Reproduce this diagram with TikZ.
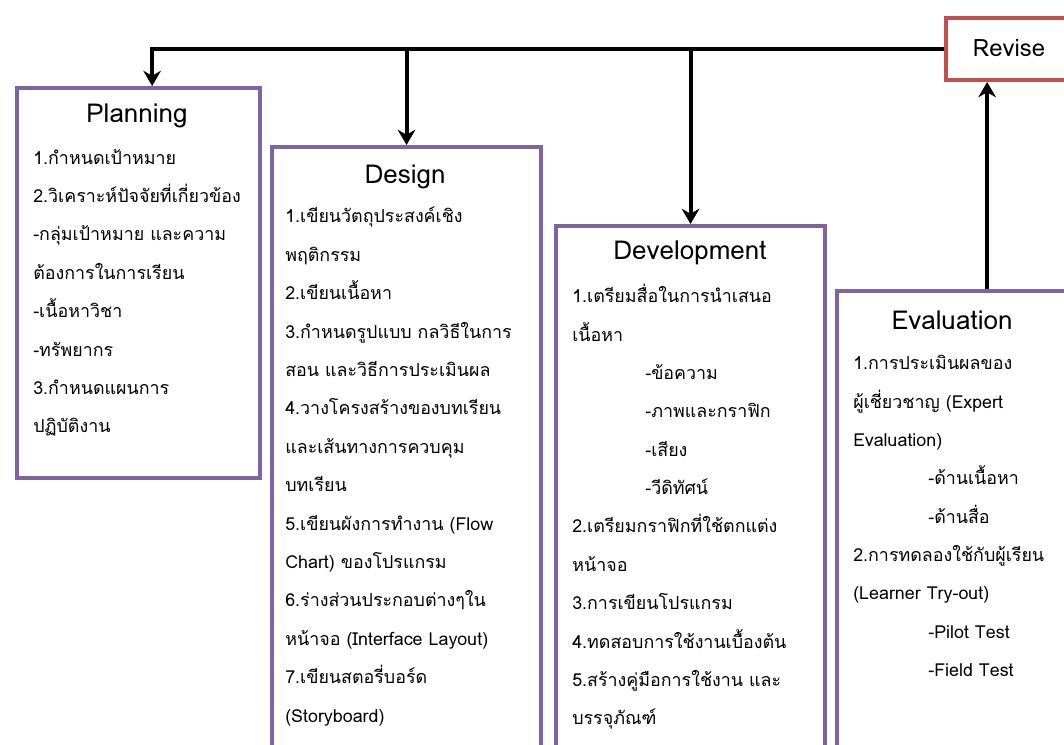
\documentclass[tikz,border=0pt]{standalone}
\usepackage{fontspec}
\setmainfont[Script=Thai]{Loma}
\usetikzlibrary{arrows.meta,positioning}
\definecolor{stagepurple}{HTML}{8064A2}
\definecolor{reviseRed}{HTML}{C0504D}

\begin{document}
\begin{tikzpicture}[x=0.025cm,y=-0.025cm,
  box/.style={draw=#1,line width=1mm,fill=white,anchor=north west,inner sep=0pt},
  ttl/.style={font=\fontsize{18.5}{22}\selectfont},
  txt/.style={anchor=north west,align=left,inner sep=0pt,font=\fontsize{12.7}{27.3}\selectfont},
  arr/.style={-{Stealth[length=3.8mm,width=4.4mm]},line width=1mm}]
\clip (0,0) rectangle (1064,744);
\fill[white] (0,0) rectangle (1064,744);
% stage boxes
\node[box=stagepurple,minimum width=6.075cm,minimum height=9.75cm] (plan) at (15,86) {};
\node[box=stagepurple,minimum width=6.725cm,minimum height=15.6cm] (des) at (270,145) {};
\node[box=stagepurple,minimum width=6.725cm,minimum height=13.7cm] (dev) at (554,224) {};
\node[box=stagepurple,minimum width=6.125cm,minimum height=12.1cm] (eval) at (835,289) {};
\node[box=reviseRed,minimum width=3.4cm,minimum height=1.55cm] (rev) at (944,16) {};
\node[font=\fontsize{17}{20}\selectfont] (revt) at (1009,48) {Revise};
% titles
\node[ttl] (plant) at (137,116) {Planning};
\node[ttl] (dest) at (405,177) {Design};
\node[ttl] (devt) at (690,253) {Development};
\node[ttl] (evalt) at (952,320) {Evaluation};
% contents
\node[txt] (planx) at (33,149) {1.กำหนดเป้าหมาย\\2.วิเคราะห์ปัจจัยที่เกี่ยวข้อง\\-กลุ่มเป้าหมาย และความ\\ต้องการในการเรียน\\-เนื้อหาวิชา\\-ทรัพยากร\\3.กำหนดแผนการ\\ปฏิบัติงาน};
\node[txt] (desx) at (285,207) {1.เขียนวัตถุประสงค์เชิง\\พฤติกรรม\\2.เขียนเนื้อหา\\3.กำหนดรูปแบบ กลวิธีในการ\\สอน และวิธีการประเมินผล\\4.วางโครงสร้างของบทเรียน\\และเส้นทางการควบคุม\\บทเรียน\\5.เขียนผังการทำงาน (Flow\\Chart) ของโปรแกรม\\6.ร่างส่วนประกอบต่างๆใน\\หน้าจอ (Interface Layout)\\7.เขียนสตอรี่บอร์ด\\(Storyboard)};
\node[txt] (devx) at (572,284) {1.เตรียมสื่อในการนำเสนอ\\เนื้อหา\\\hspace*{1.825cm}-ข้อความ\\\hspace*{1.825cm}-ภาพและกราฟิก\\\hspace*{1.825cm}-เสียง\\\hspace*{1.825cm}-วีดิทัศน์\\2.เตรียมกราฟิกที่ใช้ตกแต่ง\\หน้าจอ\\3.การเขียนโปรแกรม\\4.ทดสอบการใช้งานเบื้องต้น\\5.สร้างคู่มือการใช้งาน และ\\บรรจุภัณฑ์};
\node[txt] (evalx) at (853,355) {1.การประเมินผลของ\\ผู้เชี่ยวชาญ (Expert\\Evaluation)\\\hspace*{1.875cm}-ด้านเนื้อหา\\\hspace*{1.875cm}-ด้านสื่อ\\2.การทดลองใช้กับผู้เรียน\\(Learner Try-out)\\\hspace*{1.875cm}-Pilot Test\\\hspace*{1.875cm}-Field Test};
% connectors
\draw[arr] (rev.west) -| ([xshift=3.4mm]plan.north);
\draw[arr] (rev.west -| des.north) -- (des.north);
\draw[arr] (rev.west -| dev.north) -- (dev.north);
\draw[arr] ([xshift=6.9mm]eval.north) -- ([xshift=6.9mm]eval.north |- rev.south);
\end{tikzpicture}
\end{document}
